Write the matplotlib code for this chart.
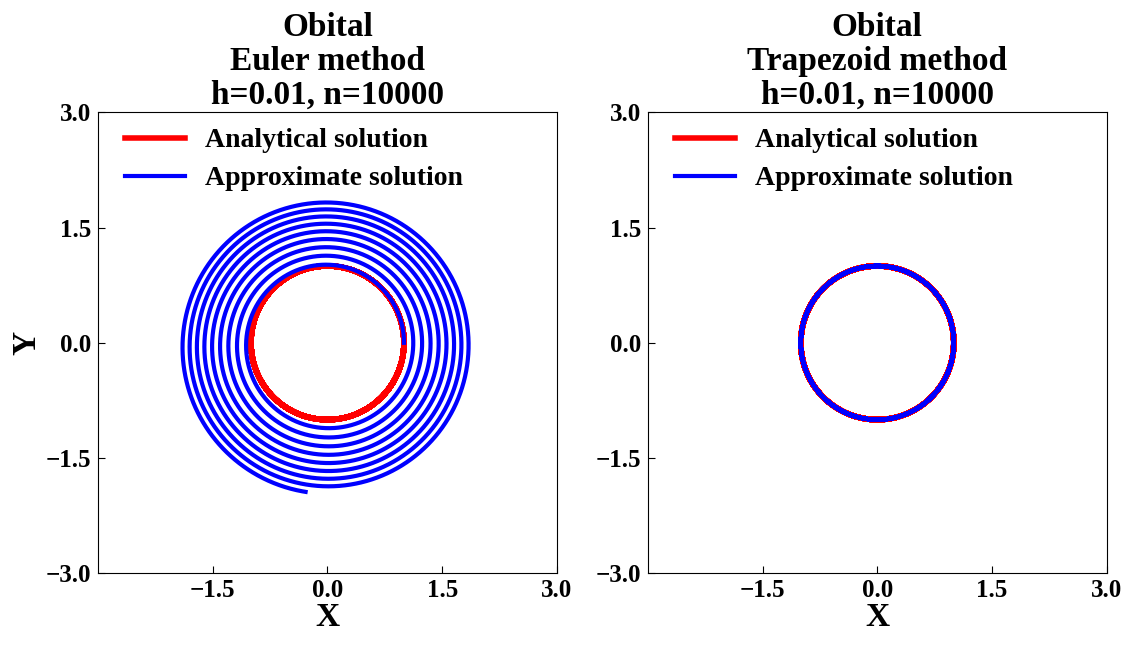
import numpy as np
import matplotlib
matplotlib.use('Agg')
import matplotlib.pyplot as plt

# 参数（取自标题）
h = 0.01
n = 10000
x0 = [1.0, 0.0]   # 初始位置
v0 = [0.0, 1.0]   # 初始速度
methods = ['Euler method', 'Trapezoid method']
x_ticks = [-1.5, 0.0, 1.5, 3.0]
y_ticks = [-3.0, -1.5, 0.0, 1.5, 3.0]


def accel(p):
    r3 = np.sum(p ** 2) ** 1.5
    return -p / r3


# 欧拉法
def euler(p0, q0, h, n):
    p = np.array(p0, float)
    q = np.array(q0, float)
    out = np.zeros((n + 1, 2))
    out[0] = p
    for i in range(n):
        p, q = p + h * q, q + h * accel(p)
        out[i + 1] = p
    return out


# 梯形法（改进欧拉）
def trapezoid(p0, q0, h, n):
    p = np.array(p0, float)
    q = np.array(q0, float)
    out = np.zeros((n + 1, 2))
    out[0] = p
    for i in range(n):
        a1 = accel(p)
        pp = p + h * q
        qp = q + h * a1
        a2 = accel(pp)
        p = p + h / 2 * (q + qp)
        q = q + h / 2 * (a1 + a2)
        out[i + 1] = p
    return out


def main():
    plt.rcParams['font.family'] = ['Liberation Serif', 'DejaVu Serif']
    plt.rcParams['font.weight'] = 'bold'
    plt.rcParams['axes.unicode_minus'] = True

    t = np.arange(n + 1) * h
    exact = np.column_stack([np.cos(t), np.sin(t)])
    results = [euler(x0, v0, h, n), trapezoid(x0, v0, h, n)]

    fig, axes = plt.subplots(1, 2, figsize=(11.34, 6.45), dpi=100)
    fig.subplots_adjust(left=0.0864, right=0.976, bottom=0.111, top=0.826, wspace=0.198)

    for k, ax in enumerate(axes):
        ax.plot(exact[:, 0], exact[:, 1], color='red', lw=4, label='Analytical solution')
        ax.plot(results[k][:, 0], results[k][:, 1], color='blue', lw=3, label='Approximate solution')
        ax.set_xlim(-3, 3)
        ax.set_ylim(-3, 3)
        ax.set_xticks(x_ticks)
        ax.set_yticks(y_ticks)
        ax.tick_params(direction='in', labelsize=18, length=5)
        ax.tick_params(axis='x', pad=4)
        ax.tick_params(axis='y', pad=5)
        for lab in ax.get_xticklabels() + ax.get_yticklabels():
            lab.set_fontweight('bold')
        ax.set_title('Obital\n' + methods[k] + '\nh=0.01, n=10000',
                     fontsize=24, fontweight='bold', pad=6, linespacing=1.12)
        ax.set_xlabel('X', fontsize=24, fontweight='bold', labelpad=0)
        ax.legend(loc='upper left', bbox_to_anchor=(0.005, 1.02), frameon=False,
                  handlelength=2.16, handletextpad=0.72, labelspacing=0.45,
                  prop={'weight': 'bold', 'size': 20})
    axes[0].set_ylabel('Y', fontsize=24, fontweight='bold', labelpad=2)

    plt.savefig('out.png', dpi=100)


if __name__ == "__main__":
    main()
